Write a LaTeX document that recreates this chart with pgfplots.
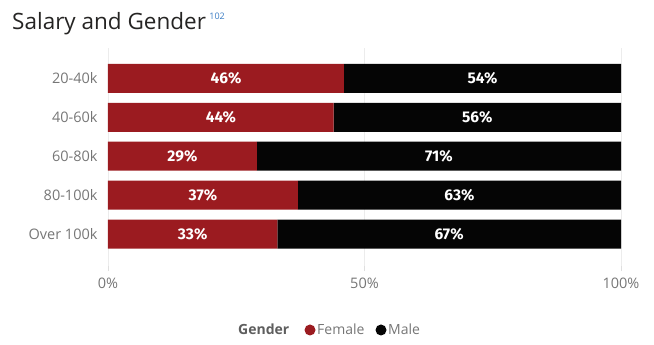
\documentclass[border=0pt]{standalone}
\usepackage{pgfplots}
\pgfplotsset{compat=1.18}
\usepackage{pgfplotstable}
\usepackage{fontspec}
\setmainfont{Open Sans}
\newfontfamily\labfont{Fira Sans}
\definecolor{fem}{HTML}{9B1B20}
\definecolor{mal}{HTML}{050505}
\definecolor{tickgray}{HTML}{767676}
\definecolor{titlegray}{HTML}{252423}
\definecolor{supblue}{HTML}{3A7CC4}
\pgfplotstableread{
idx F M
0 46 54
1 44 56
2 29 71
3 37 63
4 33 67
}\datatable
\begin{document}
\begin{tikzpicture}[x=1pt,y=1pt]
\useasboundingbox (0,0) rectangle (654,345);
\node[anchor=base west, inner sep=0, text=titlegray, font=\fontsize{22.5}{25}\selectfont] (T) at (12,315) {Salary and Gender};
\node[anchor=base west, inner sep=0, text=supblue, font=\fontsize{9}{10}\selectfont] at ([xshift=3pt]T.base east |- 0,325) {102};
\begin{axis}[
  at={(108pt,79pt)}, anchor=south west,
  scale only axis, width=513pt, height=218pt,
  xbar stacked, bar width=29pt,
  xmin=0, xmax=100, ymin=-0.78, ymax=4.82, y dir=reverse,
  axis line style={draw=none},
  xtick={0,50,100}, xticklabels={0\%,50\%,100\%},
  ytick={0,1,2,3,4}, yticklabels={20-40k,40-60k,60-80k,80-100k,Over 100k},
  xmajorgrids, grid style={draw=gray!15, line width=0.6pt},
  tick pos=left, tick align=outside,
  x tick style={draw=gray!25, line width=0.6pt}, major tick length=5pt,
  y tick style={draw=none},
  ticklabel style={text=tickgray, font=\fontsize{14.5}{16}\selectfont},
  xticklabel style={yshift=-3pt},
  yticklabel style={xshift=-2pt},
  clip=false,
]
\addplot[fill=fem, draw=none] table[x=F, y=idx] {\datatable};
\addplot[fill=mal, draw=none] table[x=M, y=idx] {\datatable};
\end{axis}
\begin{axis}[
  at={(108pt,79pt)}, anchor=south west,
  scale only axis, width=513pt, height=218pt,
  xmin=0, xmax=100, ymin=-0.78, ymax=4.82, y dir=reverse,
  hide axis, clip=false,
  nodes near coords={\pgfmathprintnumber[assume math mode=true]{\pgfplotspointmeta}\%},
  every node near coord/.style={anchor=center, text=white, font=\labfont\bfseries\fontsize{15.5}{17}\selectfont},
]
\addplot[only marks, mark=none, point meta=\thisrow{F}] table[x expr=\thisrow{F}/2, y=idx] {\datatable};
\addplot[only marks, mark=none, point meta=\thisrow{M}] table[x expr=\thisrow{F}+\thisrow{M}/2, y=idx] {\datatable};
\end{axis}
\node[anchor=base west, inner sep=0, text=tickgray!80!black, font=\bfseries\fontsize{14}{16}\selectfont] at (238,10) {Gender};
\fill[fem] (310,15) circle (5.5);
\node[anchor=base west, inner sep=0, text=tickgray, font=\fontsize{14}{16}\selectfont] at (317,10) {Female};
\fill[mal] (381,15) circle (5.5);
\node[anchor=base west, inner sep=0, text=tickgray, font=\fontsize{14}{16}\selectfont] at (388,10) {Male};
\end{tikzpicture}
\end{document}
